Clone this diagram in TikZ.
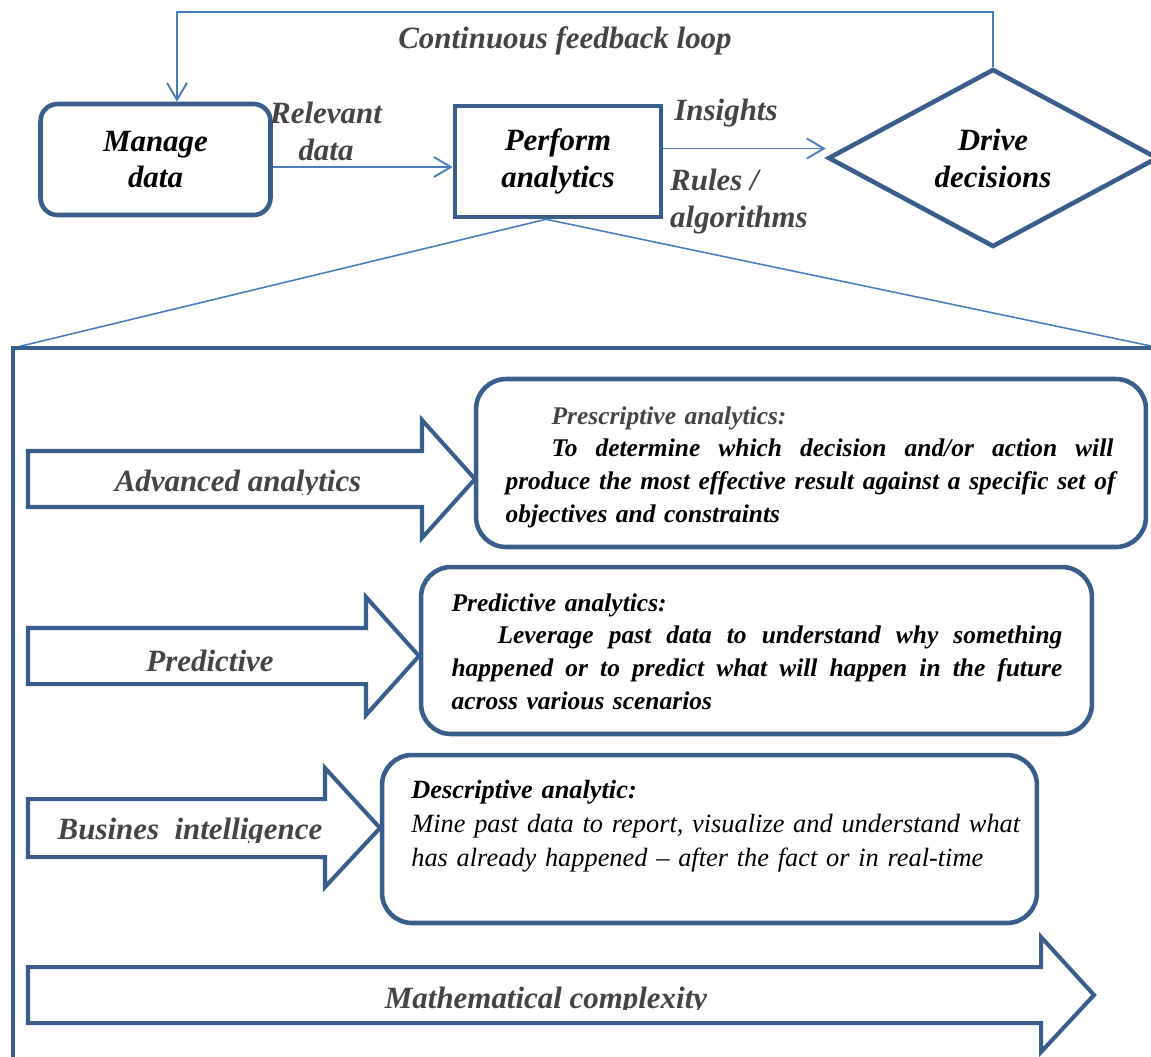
\documentclass[tikz,border=0pt]{standalone}
\usepackage{fontspec}
\setmainfont{Liberation Serif}
\usetikzlibrary{positioning}
\usetikzlibrary{calc}
\usetikzlibrary{arrows.meta}
\usetikzlibrary{shapes.geometric}
\definecolor{boxblue}{RGB}{58,94,140}
\definecolor{lineblue}{RGB}{74,126,187}
\definecolor{labelgray}{RGB}{68,68,68}
\newcommand{\bigfont}{\fontsize{17.6pt}{21pt}\selectfont\bfseries\itshape}
\newcommand{\smallfont}{\fontsize{14.5pt}{18.6pt}\selectfont}
% one justified line of a given width
\newcommand{\jline}[2]{\makebox[#1][s]{\spaceskip=0.25em plus 1fil minus 0.1em\relax #2}}

\begin{document}
\begin{tikzpicture}[x=0.02cm, y=-0.02cm, align=center, font=\bigfont,
        box/.style={draw=boxblue, line width=2.6pt, fill=white, inner sep=0pt},
        flow/.style={draw=lineblue, line width=1.1pt, -{Straight Barb[length=3.4mm, width=4mm]}},
        thin/.style={draw=lineblue, line width=0.9pt},
        lbl/.style={text=labelgray},
        blockarrow/.style={draw=boxblue, line width=2.3pt},
        txt/.style={font=\smallfont\bfseries\itshape, text width=12.2cm, align=left, inner sep=0pt}]
    \path[use as bounding box] (0,0) rectangle (1151,1056);
    \clip (0,0) rectangle (1151,1056);

    % top row
    \node[box, rounded corners=0.34cm, minimum width=4.6cm, minimum height=2.22cm] (mng) at (155.5,159.5) {Manage\\data};
    \node[box, minimum width=4.12cm, minimum height=2.22cm] (prf) at (558,161.5) {Perform\\analytics};
    \node[box, diamond, minimum width=6.6cm, minimum height=3.56cm] (drv) at (993,158) {Drive\\decisions};

    \coordinate (fbl) at (177,12);
    \draw[flow] (drv.north) |- (fbl) -- (fbl |- mng.north);
    \node[lbl] (fbk) at (565,41) {Continuous feedback loop};

    \draw[flow] ($(mng.east)+(0,7.5)$) coordinate (rd) -- (rd -| prf.west);
    \node[lbl] (rdl) at (326,131) {Relevant\\data};

    \draw[flow] ($(prf.east)+(0,-13)$) coordinate (ins) -- (ins -| drv.west);
    \node[lbl] (insl) at (726,113) {Insights};
    \node[lbl, align=left, anchor=west] (rul) at (664,202) {Rules /\\algorithms};

    % zoom into analytics
    \coordinate (zm) at ($(prf.south)+(-12,0)$);
    \coordinate (fl) at (13,348);
    \coordinate (fr) at (1151,346);
    \draw[thin] (fl) -- (zm) -- (fr);
    \draw[draw=boxblue, line width=2.3pt] (13,1080) -- (fl) -- (1180,348);

    % block arrows
    \draw[blockarrow] (28,451) -- (422,451) -- (422,420) -- (475,479) -- (422,538) -- (422,507) -- (28,507) -- cycle;
    \draw[blockarrow] (28,628) -- (366,628) -- (366,597) -- (419,656) -- (366,715) -- (366,684) -- (28,684) -- cycle;
    \draw[blockarrow] (28,799) -- (325,799) -- (325,768) -- (380,828) -- (325,887) -- (325,857) -- (28,857) -- cycle;
    \draw[blockarrow] (28,967) -- (1041,967) -- (1041,937) -- (1094,995) -- (1041,1052) -- (1041,1023) -- (28,1023) -- cycle;
    \begin{scope}
        \clip (30,453) rectangle (420,494);
        \node[lbl] (adv) at (238,484) {Advanced analytics};
    \end{scope}
    \node[lbl] (pred) at (210,661) {Predictive};
    \begin{scope}
        \clip (30,801) rectangle (323,842);
        \node[lbl] (bi) at (190,832) {Busines\ \ intelligence};
    \end{scope}
    \begin{scope}
        \clip (30,969) rectangle (1039,1009);
        \node[lbl] (mc) at (546,1001) {Mathematical complexity};
    \end{scope}

    % description boxes
    \node[box, rounded corners=0.6cm, minimum width=13.4cm, minimum height=3.36cm] (presc) at (811,463) {};
    \node[box, rounded corners=0.6cm, minimum width=13.42cm, minimum height=3.34cm] (predb) at (756.5,650.5) {};
    \node[box, rounded corners=0.6cm, minimum width=13.1cm, minimum height=3.36cm] (descb) at (709.5,839) {};

    \node[txt] (presctx) at (810.5,467) {{\color{labelgray}\hspace*{0.92cm}Prescriptive analytics:}\\
        \hspace*{0.92cm}\jline{11.24cm}{To determine which decision and/or action will}\\
        \jline{12.2cm}{produce the most effective result against a specific set of}\\
        objectives and constraints};
    \node[txt] (predtx) at (756.5,651.5) {Predictive analytics:\\
        \hspace*{0.92cm}\jline{11.3cm}{Leverage past data to understand why something}\\
        \jline{12.22cm}{happened or to predict what will happen in the future}\\
        across various scenarios};
    \node[txt, font=\fontsize{15pt}{19.3pt}\selectfont\bfseries\itshape, anchor=west] (desctx) at (411,826) {Descriptive analytic:\\
        {\mdseries Mine past data to report, visualize and understand what}\\
        {\mdseries has already happened \textendash{} after the fact or in real-time}};
\end{tikzpicture}
\end{document}
